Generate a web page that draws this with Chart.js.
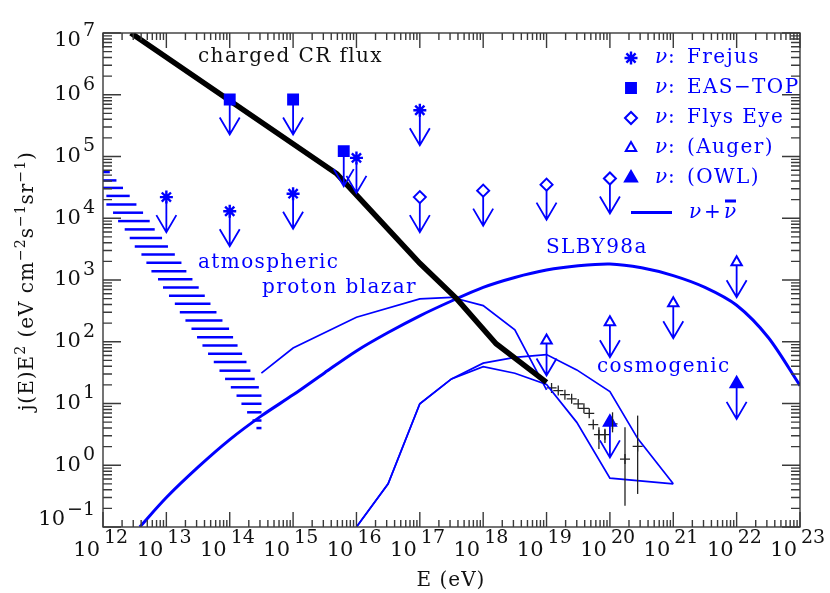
<!DOCTYPE html>
<html>

<head>
    <title>Neutrino flux limits</title>
    <script src="https://cdn.jsdelivr.net/npm/chart.js"></script>
    <style>
        body { margin: 0; background: #fff; }
    </style>
</head>

<body>
    <canvas id="myChart" width="830" height="593"></canvas>
    <script>
        // --- data (E in eV, flux j(E)E^2 in eV cm^-2 s^-1 sr^-1) ---

        // charged cosmic ray flux (thick black line)
        const crE = [2.75e12, 4.9e15, 1.0e17, 3.8e17, 1.6e18, 1.0e19];
        const crF = [1.0e7, 5.25e4, 1.86e3, 5.0e2, 93, 22];

        // measured CR spectrum points above 1e19 eV, with error bars where drawn
        const crDataE = [1.2e19, 1.53e19, 1.95e19, 2.49e19, 3.16e19, 3.89e19, 4.72e19, 5.46e19, 6.71e19, 8.35e19, 1.1e20, 1.73e20, 2.74e20];
        const crDataF = [17.9, 16.2, 13.9, 11.9, 9.86, 8.36, 6.93, 4.55, 3.13, 3.13, 4.67, 1.26, 2.02];
        const crDataLo = [null, null, null, null, null, null, null, null, 1.84, 2.3, 3.41, 0.221, 0.343];
        const crDataHi = [null, null, null, null, null, null, null, null, 4.11, 3.9, 7.2, 4.11, 6.37];

        // atmospheric neutrino band (hatched): one dash per flux level
        const atmoF = [5.6e4, 4.1e4, 3.1e4, 2.3e4, 1.67e4, 1.23e4, 9.0e3, 6.6e3, 4.8e3, 3.5e3, 2.6e3, 1.9e3, 1.39e3, 1.03e3, 755, 555,
            411, 301, 221, 162, 118, 87, 64, 47, 34, 25, 18.3, 13.4, 9.9, 7.2, 5.3, 4.0];
        const atmoLo = [1e12, 1e12, 1e12, 1.13e12, 1.13e12, 1.44e12, 1.73e12, 2.2e12, 2.64e12, 3.17e12, 4.04e12, 4.84e12, 5.81e12, 7.38e12, 8.85e12, 1.1e13,
            1.36e13, 1.63e13, 2.0e13, 2.49e13, 3.05e13, 3.71e13, 4.55e13, 5.6e13, 6.89e13, 8.44e13, 1.04e14, 1.28e14, 1.53e14, 1.88e14, 2.29e14, 2.64e14];
        const atmoHi = [1.28e12, 1.63e12, 2.07e12, 2.64e12, 3.37e12, 4.29e12, 5.46e12, 6.55e12, 8.55e12, 1.06e13, 1.36e13, 1.73e13, 2.07e13, 2.58e13, 3.24e13, 4.04e13,
            4.97e13, 6.18e13, 7.68e13, 9.77e13, 1.13e14, 1.33e14, 1.57e14, 1.84e14, 2.12e14, 2.48e14, 2.88e14, 3.17e14, 3.17e14, 3.17e14, 3.17e14, 3.17e14];

        // SLBY98a model
        const slbyE = [3.8e12, 1e13, 3.16e13, 1e14, 3.16e14, 1e15, 3.16e15, 1e16, 3.16e16, 1e17, 3.16e17, 1e18, 3.16e18, 1e19, 3.16e19, 1e20, 3.16e20, 1e21, 3.16e21, 1e22, 3.16e22, 1e23];
        const slbyF = [0.1, 0.30, 0.93, 2.6, 6.3, 13.8, 31.6, 71, 141, 263, 457, 760, 1100, 1450, 1700, 1820, 1580, 1180, 760, 390, 117, 19.5];

        // proton blazar model
        const blazarE = [3.16e14, 1e15, 1e16, 1e17, 3.16e17, 1e18, 3.16e18, 1e19];
        const blazarF = [31, 79, 250, 495, 525, 385, 156, 16.6];

        // cosmogenic neutrinos, upper and lower curve
        const cosmoHiE = [1e16, 3.16e16, 1e17, 3.16e17, 1e18, 3.16e18, 1e19, 3e19, 1e20, 2.75e20, 1e21];
        const cosmoHiF = [0.1, 0.5, 9.9, 25, 45, 56, 62, 35, 15.6, 2.7, 0.5];
        const cosmoLoE = [1e16, 3.16e16, 1e17, 3.16e17, 1e18, 3.16e18, 1e19, 3e19, 1e20, 1e21];
        const cosmoLoF = [0.1, 0.5, 9.9, 25, 39.6, 30.9, 20.3, 4.95, 0.62, 0.5];

        // neutrino upper limits
        const frejusE = [1e13, 1e14, 1e15, 1e16, 1e17];
        const frejusF = [2.2e4, 1.3e4, 2.5e4, 9.5e4, 5.6e5];
        const easE = [1e14, 1e15, 6.3e15];
        const easF = [8.4e5, 8.4e5, 1.22e5];
        const flysE = [1e17, 1e18, 1e19, 1e20];
        const flysF = [2.2e4, 2.8e4, 3.5e4, 4.4e4];
        const augerE = [1e19, 1e20, 1e21, 1e22];
        const augerF = [105, 207, 421, 1940];
        const owlE = [1e20, 1e22];
        const owlF = [4.95, 20.8];

        const BLUE = '#0000ff';
        const AXIS = '#3a3a3a';
        const FONT = '"DejaVu Serif", serif';

        const pts = (xs, ys) => xs.map((x, i) => ({ x: x, y: ys[i] }));

        const lineSet = (data, color, width, extra) => Object.assign({
            data: data, showLine: true, borderColor: color, borderWidth: width,
            pointRadius: 0, tension: 0, fill: false
        }, extra || {});

        const atmoSets = atmoF.map((f, i) =>
            lineSet([{ x: atmoLo[i], y: f }, { x: atmoHi[i], y: f }], BLUE, 2.5));

        const datasets = [
            ...atmoSets,
            lineSet(pts(slbyE, slbyF), BLUE, 3, { tension: 0.3 }),
            lineSet(pts(blazarE, blazarF), BLUE, 1.7),
            lineSet(pts(cosmoHiE, cosmoHiF), BLUE, 1.7),
            lineSet(pts(cosmoLoE, cosmoLoF), BLUE, 1.7),
            lineSet(pts(crE, crF), '#000', 5.5, { order: -1 }),
            {
                data: pts(crDataE, crDataF), showLine: false, pointStyle: 'cross',
                pointRadius: 5, borderColor: '#222', borderWidth: 1.3, errLo: crDataLo, errHi: crDataHi
            },
            { data: pts(frejusE, frejusF), showLine: false, pointStyle: 'star', pointRadius: 6.5, borderColor: BLUE, borderWidth: 2.4, arrowFrom: 4, order: -2 },
            { data: pts(easE, easF), showLine: false, pointStyle: 'rect', pointRadius: 7, borderColor: BLUE, backgroundColor: BLUE, borderWidth: 2, arrowFrom: 5, order: -2 },
            { data: pts(flysE, flysF), showLine: false, pointStyle: 'rectRot', pointRadius: 6, borderColor: BLUE, backgroundColor: '#fff', borderWidth: 2, arrowFrom: 6, order: -2 },
            { data: pts(augerE, augerF), showLine: false, pointStyle: 'triangle', pointRadius: 6, borderColor: BLUE, backgroundColor: '#fff', borderWidth: 2, arrowFrom: 3, order: -2 },
            { data: pts(owlE, owlF), showLine: false, pointStyle: 'triangle', pointRadius: 6, borderColor: BLUE, backgroundColor: BLUE, borderWidth: 3, arrowFrom: 3, order: -2 }
        ];

        // arrows below upper-limit markers, error bars on the CR points
        const limitMarks = {
            id: 'limitMarks',
            afterDatasetsDraw(chart) {
                const ctx = chart.ctx;
                const ys = chart.scales.y;
                chart.data.datasets.forEach((ds, i) => {
                    const meta = chart.getDatasetMeta(i);
                    if (ds.arrowFrom !== undefined) {
                        ctx.save();
                        ctx.strokeStyle = BLUE;
                        ctx.lineWidth = 1.8;
                        meta.data.forEach(p => {
                            const tip = p.y + 35;
                            ctx.beginPath();
                            ctx.moveTo(p.x, p.y + ds.arrowFrom);
                            ctx.lineTo(p.x, tip);
                            ctx.moveTo(p.x - 10, tip - 17);
                            ctx.lineTo(p.x, tip);
                            ctx.lineTo(p.x + 10, tip - 17);
                            ctx.stroke();
                        });
                        ctx.restore();
                    }
                    if (ds.errLo) {
                        ctx.save();
                        ctx.strokeStyle = '#222';
                        ctx.lineWidth = 1.3;
                        meta.data.forEach((p, j) => {
                            if (ds.errLo[j] == null) return;
                            ctx.beginPath();
                            ctx.moveTo(p.x, ys.getPixelForValue(ds.errHi[j]));
                            ctx.lineTo(p.x, ys.getPixelForValue(ds.errLo[j]));
                            ctx.stroke();
                        });
                        ctx.restore();
                    }
                });
            }
        };

        function partsFont(sup, size) {
            return (sup ? Math.round(size * 0.72) : size) + 'px ' + FONT;
        }

        function supText(ctx, parts, x, y, size) {
            let cx = x;
            parts.forEach(([t, sup]) => {
                ctx.font = partsFont(sup, size);
                ctx.fillText(t, cx, sup ? y - size * 0.42 : y);
                cx += ctx.measureText(t).width;
            });
        }

        function measureParts(ctx, parts, size) {
            let w = 0;
            parts.forEach(([t, sup]) => {
                ctx.font = partsFont(sup, size);
                w += ctx.measureText(t).width;
            });
            return w;
        }

        // frame, inward ticks on all sides, power-of-ten labels, titles, annotations, legend
        const frame = {
            id: 'frame',
            afterDraw(chart) {
                const ctx = chart.ctx;
                const a = chart.chartArea;
                const xs = chart.scales.x, ys = chart.scales.y;
                ctx.save();
                ctx.strokeStyle = AXIS;
                ctx.lineWidth = 1.4;
                ctx.strokeRect(a.left, a.top, a.right - a.left, a.bottom - a.top);
                ctx.beginPath();
                for (let e = 12; e <= 23; e++) {
                    for (let m = 1; m <= 9; m++) {
                        const v = m * Math.pow(10, e);
                        if (v > 1.0001e23) break;
                        const px = xs.getPixelForValue(v);
                        const len = m === 1 ? 15 : 7;
                        ctx.moveTo(px, a.bottom); ctx.lineTo(px, a.bottom - len);
                        ctx.moveTo(px, a.top); ctx.lineTo(px, a.top + len);
                    }
                }
                for (let e = -1; e <= 7; e++) {
                    for (let m = 1; m <= 9; m++) {
                        const v = m * Math.pow(10, e);
                        if (v > 1.0001e7) break;
                        const py = ys.getPixelForValue(v);
                        const len = m === 1 ? 18 : 9;
                        ctx.moveTo(a.left, py); ctx.lineTo(a.left + len, py);
                        ctx.moveTo(a.right, py); ctx.lineTo(a.right - len, py);
                    }
                }
                ctx.stroke();

                // tick labels
                ctx.fillStyle = '#111';
                ctx.textBaseline = 'middle';
                for (let e = 12; e <= 23; e++) {
                    const px = xs.getPixelForValue(Math.pow(10, e));
                    ctx.font = '21px ' + FONT;
                    ctx.textAlign = 'right';
                    ctx.fillText('10', px - 3, 551);
                    ctx.font = '19px ' + FONT;
                    ctx.textAlign = 'left';
                    ctx.fillText(String(e), px + 1, 538);
                }
                for (let e = -1; e <= 7; e++) {
                    const py = ys.getPixelForValue(Math.pow(10, e));
                    const base = Math.min(Math.max(py, 41), 520);
                    const ex = e < 0 ? '\u2212' + (-e) : String(e);
                    ctx.font = '19px ' + FONT;
                    ctx.textAlign = 'right';
                    const w = ctx.measureText(ex).width;
                    ctx.fillText(ex, 95, base - 10);
                    ctx.font = '21px ' + FONT;
                    ctx.fillText('10', 95 - w - 2, base);
                }

                // axis titles
                ctx.letterSpacing = '1px';
                ctx.textBaseline = 'alphabetic';
                ctx.textAlign = 'left';
                ctx.font = '20px ' + FONT;
                const xt = 'E (eV)';
                ctx.fillText(xt, 451 - ctx.measureText(xt).width / 2, 586);

                const yParts = [['j(E)E', 0], ['2', 1], [' (eV cm', 0], ['\u22122', 1], ['s', 0], ['\u22121', 1], ['sr', 0], ['\u22121', 1], [')', 0]];
                ctx.save();
                ctx.translate(33, 281);
                ctx.rotate(-Math.PI / 2);
                const yw = measureParts(ctx, yParts, 20);
                supText(ctx, yParts, -yw / 2, 0, 20);
                ctx.restore();

                // annotations
                ctx.letterSpacing = '1.4px';
                ctx.textBaseline = 'middle';
                ctx.font = '20px ' + FONT;
                ctx.fillStyle = '#111';
                ctx.fillText('charged CR flux', 198, 57);
                ctx.fillStyle = BLUE;
                ctx.fillText('atmospheric', 198, 263);
                ctx.fillText('proton blazar', 262, 288);
                ctx.fillText('SLBY98a', 546, 248);
                ctx.fillText('cosmogenic', 597, 367);

                // legend
                const rows = [
                    ['Frejus', { pointStyle: 'star', radius: 6.5, borderWidth: 2.4 }, false],
                    ['EAS\u2212TOP', { pointStyle: 'rect', radius: 7, borderWidth: 2 }, true],
                    ['Flys Eye', { pointStyle: 'rectRot', radius: 6, borderWidth: 2 }, false],
                    ['(Auger)', { pointStyle: 'triangle', radius: 6, borderWidth: 2 }, false],
                    ['(OWL)', { pointStyle: 'triangle', radius: 6, borderWidth: 3 }, true]
                ];
                rows.forEach(([label, opts, filled], k) => {
                    const y = 58 + 30 * k;
                    ctx.strokeStyle = BLUE;
                    ctx.fillStyle = filled ? BLUE : '#fff';
                    ctx.lineWidth = opts.borderWidth;
                    Chart.helpers.drawPoint(ctx, Object.assign({ rotation: 0 }, opts), 631, y);
                    ctx.fillStyle = BLUE;
                    ctx.font = 'italic 20px ' + FONT;
                    ctx.fillText('\u03bd', 655, y);
                    ctx.font = '20px ' + FONT;
                    ctx.fillText(':', 668, y);
                    ctx.fillText(label, 687, y);
                });
                ctx.strokeStyle = BLUE;
                ctx.lineWidth = 3;
                ctx.beginPath();
                ctx.moveTo(631, 212.5);
                ctx.lineTo(672, 212.5);
                ctx.stroke();
                ctx.letterSpacing = '0px';
                ctx.fillStyle = BLUE;
                ctx.font = 'italic 20px ' + FONT;
                ctx.fillText('\u03bd', 689, 213);
                ctx.fillText('\u03bd', 724, 213);
                ctx.font = '20px ' + FONT;
                ctx.fillText('+', 704, 213);
                ctx.fillRect(725, 199.5, 11, 3);
                ctx.restore();
            }
        };

        const config = {
            type: 'scatter',
            data: { datasets: datasets },
            options: {
                responsive: false,
                animation: false,
                events: [],
                layout: { padding: { left: 103, right: 30, top: 33, bottom: 66 } },
                scales: {
                    x: { type: 'logarithmic', min: 1e12, max: 1e23, display: false },
                    y: { type: 'logarithmic', min: 0.1, max: 1e7, display: false }
                },
                plugins: {
                    legend: { display: false },
                    tooltip: { enabled: false }
                }
            },
            plugins: [limitMarks, frame]
        };

        var myChart = new Chart(document.getElementById('myChart'), config);
    </script>
</body>

</html>
